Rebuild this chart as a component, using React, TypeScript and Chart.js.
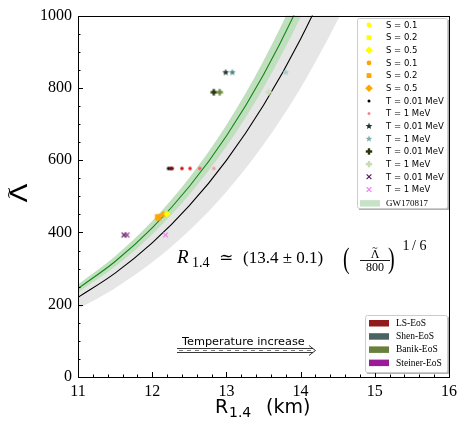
import React, { useEffect, useRef } from 'react';
import { Chart, registerables } from 'chart.js';
Chart.register(...registerables);

// ---- curve data ----
const curveR = [11, 11.5, 12, 12.5, 13, 13.5, 14, 14.5, 15];
const greenR = [11, 11.5, 12, 12.5, 13, 13.5, 14, 14.5];
const gwFitLambda = [244.8, 319.6, 412.6, 527.1, 667.0, 836.5, 1040.5, 1284.3];
const gwUpperLambda = [256.1, 334.3, 431.6, 551.4, 697.6, 875.0, 1088.3, 1343.4];
const gwLowerLambda = [234.1, 305.7, 394.6, 504.1, 637.9, 800.0, 995.1, 1228.3];
const eosFitLambda = [220.1, 287.3, 370.9, 473.9, 599.6, 752.0, 935.3, 1154.6, 1415.0];
const eosUpperLambda = [234.1, 305.7, 394.6, 504.1, 637.9, 800.0, 995.1, 1228.3, 1505.3];
const eosLowerLambda = [188.2, 245.8, 317.3, 405.3, 512.8, 643.2, 800.0, 987.5, 1210.2];

// ---- EoS points ----
const lsR = [12.22, 12.25, 12.27, 12.40, 12.51, 12.64, 12.83];
const lsLambda = [577, 577, 577, 577, 577, 577, 577];
const shenR = [12.99, 13.08, 13.80];
const shenLambda = [843, 843, 843];
const banikR = [12.83, 12.91, 13.57];
const banikLambda = [788, 788, 788];
const steinerR = [11.62, 11.66, 12.18];
const steinerLambda = [393, 393, 393];
const entropyR = [12.08, 12.15, 12.20];
const entropyLambda = [442, 450, 451];

// ---- labels ----
const markerLegendLabels = [
  'S = 0.1', 'S = 0.2', 'S = 0.5', 'S = 0.1', 'S = 0.2', 'S = 0.5',
  'T = 0.01 MeV', 'T = 1 MeV', 'T = 0.01 MeV', 'T = 1 MeV',
  'T = 0.01 MeV', 'T = 1 MeV', 'T = 0.01 MeV', 'T = 1 MeV',
];
const bandLegendLabel = 'GW170817';
const eosLabels = ['LS-EoS', 'Shen-EoS', 'Banik-EoS', 'Steiner-EoS'];

// ---- styles ----
const lsColors = ['#1a0505', '#4a0a0a', '#7a0c0c', '#c41010', '#ee1c1c', '#f25a5a', '#f39a9a'];
const shenColors = ['#1e3232', '#4e8282', '#aacbcb'];
const banikColors = ['#27360f', '#71893f', '#cde1b9'];
const steinerColors = ['#4a0e4a', '#8b2a8b', '#ef7def'];
const entropyShapes = ['square', 'diamond', 'diamond'];
const entropyColors = ['#ffa500', '#ffa500', '#ffff00'];
const markerLegendStyles: [string, string, number][] = [
  ['circle', '#ffff00', 2.4], ['square', '#ffff00', 2.4], ['diamond', '#ffff00', 3.8],
  ['circle', '#ffa500', 2.4], ['square', '#ffa500', 2.4], ['diamond', '#ffa500', 3.8],
  ['circle', '#000000', 1.5], ['circle', '#f08a8a', 1.5],
  ['star', '#1e3232', 3.6], ['star', '#7aaeae', 3.6],
  ['plus', '#27360f', 3.2], ['plus', '#c8dcb0', 3.2],
  ['x', '#5a1a6a', 2.4], ['x', '#ee80ee', 2.4],
];
const eosColors = ['#901c1c', '#4a6464', '#6a7f3c', '#9a1a9a'];

const SERIF = '"Liberation Serif", "Times New Roman", "DejaVu Serif", serif';
const SANS = '"DejaVu Sans", sans-serif';

function drawShape(ctx: CanvasRenderingContext2D, shape: string, x: number, y: number, r: number, color: string) {
  ctx.save();
  ctx.fillStyle = color;
  ctx.strokeStyle = color;
  ctx.beginPath();
  if (shape === 'circle') {
    ctx.arc(x, y, r, 0, Math.PI * 2);
    ctx.fill();
  } else if (shape === 'square') {
    ctx.fillRect(x - r, y - r, 2 * r, 2 * r);
  } else if (shape === 'diamond') {
    ctx.moveTo(x, y - r); ctx.lineTo(x + r, y); ctx.lineTo(x, y + r); ctx.lineTo(x - r, y);
    ctx.closePath(); ctx.fill();
  } else if (shape === 'star') {
    for (let i = 0; i < 10; i++) {
      const a = -Math.PI / 2 + (i * Math.PI) / 5;
      const rr = i % 2 === 0 ? r : r * 0.42;
      const px = x + rr * Math.cos(a);
      const py = y + rr * Math.sin(a);
      if (i === 0) ctx.moveTo(px, py); else ctx.lineTo(px, py);
    }
    ctx.closePath(); ctx.fill();
  } else if (shape === 'plus') {
    const t = r * 0.38;
    ctx.fillRect(x - r, y - t, 2 * r, 2 * t);
    ctx.fillRect(x - t, y - r, 2 * t, 2 * r);
  } else if (shape === 'x') {
    ctx.lineWidth = 1.2;
    ctx.moveTo(x - r, y - r); ctx.lineTo(x + r, y + r);
    ctx.moveTo(x + r, y - r); ctx.lineTo(x - r, y + r);
    ctx.stroke();
  }
  ctx.restore();
}

function markerCanvas(shape: string, color: string, r: number) {
  const size = Math.ceil(r * 2 + 4);
  const c = document.createElement('canvas');
  c.width = size; c.height = size;
  const ctx = c.getContext('2d')!;
  drawShape(ctx, shape, size / 2, size / 2, r, color);
  return c;
}

const pts = (xs: number[], ys: number[]) => xs.map((x, i) => ({ x, y: ys[i] }));

const decorPlugin = {
  id: 'decor',
  afterDraw(chart: any) {
    const ctx: CanvasRenderingContext2D = chart.ctx;
    const xs = chart.scales.x;
    const ys = chart.scales.y;
    const { left, right, top, bottom } = chart.chartArea;
    ctx.save();
    // frame
    ctx.strokeStyle = '#000';
    ctx.lineWidth = 1;
    ctx.strokeRect(Math.round(left) + 0.5, Math.round(top) + 0.5, Math.round(right - left), Math.round(bottom - top));
    // inward ticks
    ctx.beginPath();
    for (let i = 0; i <= 25; i++) {
      const v = 11 + i * 0.2;
      const px = Math.round(xs.getPixelForValue(v)) + 0.5;
      const len = i % 5 === 0 ? 5 : 2.5;
      ctx.moveTo(px, bottom); ctx.lineTo(px, bottom - len);
    }
    for (let i = 0; i <= 20; i++) {
      const v = i * 50;
      const py = Math.round(ys.getPixelForValue(v)) + 0.5;
      const len = i % 4 === 0 ? 5 : 2.5;
      ctx.moveTo(left, py); ctx.lineTo(left + len, py);
    }
    ctx.stroke();

    ctx.fillStyle = '#000';
    ctx.textAlign = 'left';
    ctx.textBaseline = 'alphabetic';

    // x title
    ctx.font = `19px ${SANS}`;
    ctx.fillText('R', 215, 413);
    ctx.font = `14px ${SANS}`;
    ctx.fillText('1.4', 229, 417);
    ctx.font = `19px ${SANS}`;
    ctx.fillText('(km)', 266, 413);

    // y title (rotated Lambda tilde)
    ctx.save();
    ctx.translate(21, 193);
    ctx.rotate(-Math.PI / 2);
    ctx.scale(1.2, 1);
    ctx.textAlign = 'center';
    ctx.textBaseline = 'middle';
    ctx.font = `23px ${SANS}`;
    ctx.fillText('Λ', 0, 0);
    ctx.font = `13px ${SANS}`;
    ctx.fillText('~', 0, -11);
    ctx.restore();

    // formula
    const base = 263;
    ctx.font = `italic 19px ${SERIF}`;
    ctx.fillText('R', 177, base);
    ctx.font = `14px ${SERIF}`;
    ctx.fillText('1.4', 192, base + 4);
    ctx.font = `17px "DejaVu Serif", serif`;
    ctx.fillText('≃', 219, base);
    ctx.font = `17px ${SERIF}`;
    ctx.fillText('(13.4 ± 0.1)', 243, base);
    ctx.save();
    ctx.translate(343, base + 5);
    ctx.scale(1, 1.45);
    ctx.font = `20px ${SERIF}`;
    ctx.fillText('(', 0, 0);
    ctx.restore();
    ctx.save();
    ctx.translate(388, base + 5);
    ctx.scale(1, 1.45);
    ctx.font = `20px ${SERIF}`;
    ctx.fillText(')', 0, 0);
    ctx.restore();
    ctx.textAlign = 'center';
    ctx.font = `12px ${SERIF}`;
    ctx.fillText('Λ', 375, 258);
    ctx.font = `10px ${SERIF}`;
    ctx.fillText('~', 375, 251);
    ctx.font = `12px ${SERIF}`;
    ctx.fillText('800', 375, 271);
    ctx.fillRect(360, 260, 30, 0.9);
    ctx.font = `14px ${SERIF}`;
    ctx.fillText('1', 406, 250);
    ctx.fillText('/', 414, 250);
    ctx.fillText('6', 423, 250);
    ctx.textAlign = 'left';

    // temperature arrow
    ctx.font = `11.3px ${SANS}`;
    ctx.fillText('Temperature increase', 182, 345);
    ctx.strokeStyle = '#222';
    ctx.lineWidth = 0.9;
    ctx.beginPath();
    ctx.moveTo(177, 348.5); ctx.lineTo(313, 348.5);
    ctx.moveTo(177, 352.5); ctx.lineTo(313, 352.5);
    ctx.moveTo(309, 345.5); ctx.lineTo(315.5, 350.5); ctx.lineTo(309, 355.5);
    ctx.stroke();
    ctx.setLineDash([4, 4]);
    ctx.strokeStyle = '#666';
    ctx.beginPath();
    ctx.moveTo(179, 350.5); ctx.lineTo(312, 350.5);
    ctx.stroke();
    ctx.setLineDash([]);

    // legends
    const drawBox = (x0: number, y0: number, x1: number, y1: number) => {
      ctx.fillStyle = 'rgba(0,0,0,0.3)';
      ctx.fillRect(x0 + 2, y0 + 2, x1 - x0, y1 - y0);
      ctx.fillStyle = '#fff';
      ctx.strokeStyle = '#cccccc';
      ctx.lineWidth = 1;
      ctx.beginPath();
      ctx.roundRect(x0 + 0.5, y0 + 0.5, x1 - x0, y1 - y0, 2);
      ctx.fill();
      ctx.stroke();
    };
    drawBox(357, 18, 447, 208);
    ctx.textBaseline = 'middle';
    ctx.font = `8.5px ${SANS}`;
    markerLegendLabels.forEach((lab, i) => {
      const y = 25 + 12.65 * i;
      const [shape, color, r] = markerLegendStyles[i];
      drawShape(ctx, shape, 369, y, r, color);
      ctx.fillStyle = '#000';
      ctx.fillText(lab, 386, y + 0.5);
    });
    {
      const y = 25 + 12.65 * 14 + 1;
      ctx.fillStyle = 'rgba(0,128,0,0.22)';
      ctx.fillRect(360, y - 3, 20, 6.5);
      ctx.fillStyle = '#000';
      ctx.font = `9px ${SERIF}`;
      ctx.fillText(bandLegendLabel, 386, y + 0.5);
    }

    drawBox(365, 315, 447, 372);
    ctx.font = `9.5px ${SERIF}`;
    eosLabels.forEach((lab, i) => {
      const y = 323 + 13.2 * i;
      ctx.fillStyle = eosColors[i];
      ctx.fillRect(369, y - 3, 20, 6.5);
      ctx.fillStyle = '#000';
      ctx.fillText(lab, 396, y + 0.5);
    });
    ctx.restore();
  },
};

export default function App() {
  const ref = useRef<HTMLCanvasElement>(null);
  useEffect(() => {
    const canvas = ref.current!;
    const scatter = (xs: number[], ys: number[], styles: any[]) => ({
      data: pts(xs, ys),
      showLine: false,
      pointStyle: styles,
      pointRadius: 3,
      order: 0,
    });
    const chart = new Chart(canvas, {
      type: 'line',
      data: {
        datasets: [
          { data: pts(curveR, eosUpperLambda), borderWidth: 0, pointRadius: 0, fill: '+1', backgroundColor: '#e6e6e6', cubicInterpolationMode: 'monotone', order: 6 },
          { data: pts(curveR, eosLowerLambda), borderWidth: 0, pointRadius: 0, fill: false, cubicInterpolationMode: 'monotone', order: 6 },
          { data: pts(curveR, eosFitLambda), borderWidth: 1.1, borderColor: '#000', pointRadius: 0, fill: false, cubicInterpolationMode: 'monotone', order: 5 },
          { data: pts(greenR, gwUpperLambda), borderWidth: 0, pointRadius: 0, fill: '+1', backgroundColor: 'rgba(0,128,0,0.25)', cubicInterpolationMode: 'monotone', order: 4 },
          { data: pts(greenR, gwLowerLambda), borderWidth: 0, pointRadius: 0, fill: false, cubicInterpolationMode: 'monotone', order: 4 },
          { data: pts(greenR, gwFitLambda), borderWidth: 1.1, borderColor: '#118811', pointRadius: 0, fill: false, cubicInterpolationMode: 'monotone', order: 3 },
          scatter(lsR, lsLambda, lsColors.map((c) => markerCanvas('circle', c, 1.8))),
          scatter(shenR, shenLambda, shenColors.map((c) => markerCanvas('star', c, 3.6))),
          scatter(banikR, banikLambda, banikColors.map((c) => markerCanvas('plus', c, 3.2))),
          scatter(steinerR, steinerLambda, steinerColors.map((c) => markerCanvas('x', c, 2.4))),
          scatter(entropyR, entropyLambda, entropyShapes.map((s, i) => markerCanvas(s, entropyColors[i], s === 'square' ? 3.2 : 3.6))),
        ] as any,
      },
      options: {
        responsive: false,
        animation: false,
        devicePixelRatio: 1,
        layout: { padding: { top: 13, right: 12, left: 0, bottom: 0 } },
        plugins: { legend: { display: false }, tooltip: { enabled: false } },
        scales: {
          x: {
            type: 'linear', min: 11, max: 16,
            afterFit: (s: any) => { s.height = 44; },
            grid: { display: false, drawTicks: false },
            border: { display: false },
            ticks: { stepSize: 1, color: '#000', padding: 5, maxRotation: 0, autoSkip: false, font: { family: SERIF, size: 16 }, callback: (v: any) => String(v) },
          },
          y: {
            type: 'linear', min: 0, max: 1000,
            afterFit: (s: any) => { s.width = 78; },
            grid: { display: false, drawTicks: false },
            border: { display: false },
            ticks: { stepSize: 200, color: '#000', padding: 6, font: { family: SERIF, size: 16 }, callback: (v: any) => String(v) },
          },
        },
      } as any,
      plugins: [decorPlugin],
    });
    return () => chart.destroy();
  }, []);
  return (
    <div style={{ position: 'fixed', left: 0, top: 0, width: 462, height: 421, background: '#fff' }}>
      <canvas ref={ref} width={462} height={421} style={{ display: 'block' }} />
    </div>
  );
}
